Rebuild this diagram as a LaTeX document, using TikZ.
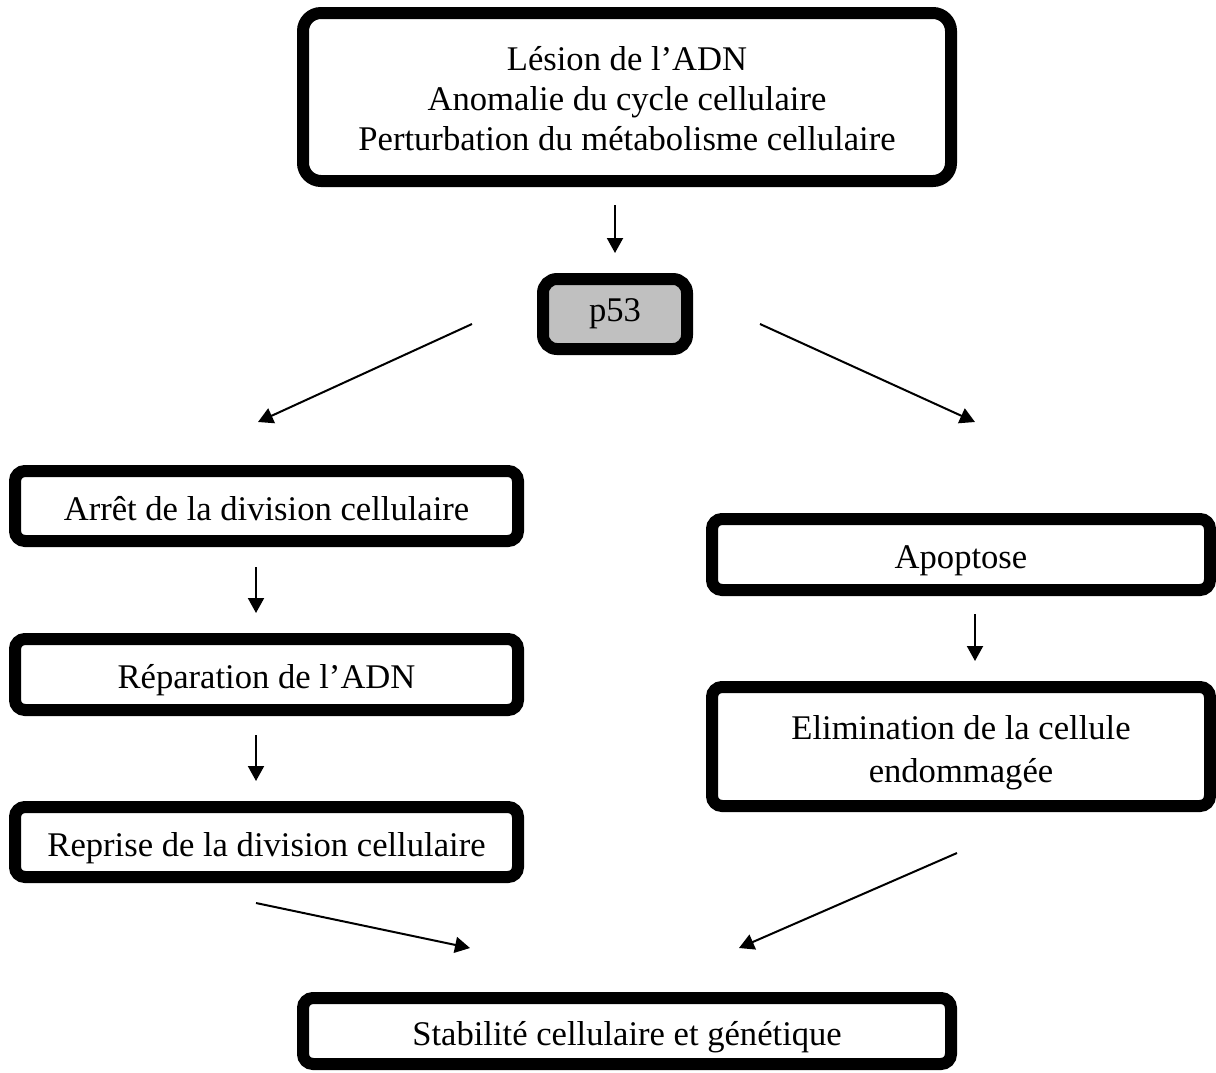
\documentclass[tikz,border=0pt]{standalone}
\usepackage{fontspec}
\setmainfont{Liberation Serif}
\usetikzlibrary{arrows.meta}
\tikzset{
  box/.style={draw=black, line width=6pt, rounded corners=5pt, fill=white, align=center,
    inner sep=0pt, font=\fontsize{17.3}{20}\selectfont},
  onel/.style={text height=14pt, text depth=0pt},
  arr/.style={line width=1pt, -{Triangle[length=7.5pt,width=8pt]}},
}
\begin{document}
\begin{tikzpicture}[x=0.5pt,y=-0.5pt]
\useasboundingbox (0,0) rectangle (1216,1072);
% nodes
\node[box, rounded corners=9pt, minimum width=324pt, minimum height=84pt] (top) at (627,97)
  {\rule{0pt}{13.5pt}Lésion de l’ADN\\Anomalie du cycle cellulaire\\Perturbation du métabolisme cellulaire};
\node[box, rounded corners=7pt, fill={rgb,255:red,192;green,192;blue,192}, minimum width=72pt, minimum height=35pt] (p53) at (615,314) {p53};
\node[box, onel, minimum width=251.5pt, minimum height=35pt] (arret) at (266.5,506) {Arrêt de la division cellulaire};
\node[box, onel, minimum width=251.5pt, minimum height=35.5pt] (repar) at (266.5,674.5) {Réparation de l’ADN};
\node[box, onel, minimum width=251.5pt, minimum height=35pt] (reprise) at (266.5,842) {Reprise de la division cellulaire};
\node[box, onel, minimum width=249pt, minimum height=35.5pt] (apop) at (961,554.5) {Apoptose};
\node[box, font=\fontsize{17.3}{21.5}\selectfont, minimum width=249pt, minimum height=59.5pt] (elim) at (961,746.5)
  {\rule{0pt}{18.5pt}Elimination de la cellule\\endommagée};
\node[box, onel, minimum width=324pt, minimum height=33pt] (stab) at (627,1031) {Stabilité cellulaire et génétique};
% arrow end points
\coordinate (a1s) at (615,205); \coordinate (a1e) at (615,253);
\coordinate (dls) at (472,324); \coordinate (dle) at (258,422);
\coordinate (drs) at (760,324); \coordinate (dre) at (975,422);
\coordinate (v1s) at (256,567); \coordinate (v1e) at (256,613);
\coordinate (v2s) at (256,735); \coordinate (v2e) at (256,781);
\coordinate (v3s) at (975,614); \coordinate (v3e) at (975,661);
\coordinate (bls) at (256,903); \coordinate (ble) at (470,948);
\coordinate (brs) at (957,853); \coordinate (bre) at (739,948);
% arrows
\draw[arr] (a1s) -- (a1e);
\draw[arr] (dls) -- (dle);
\draw[arr] (drs) -- (dre);
\draw[arr] (v1s) -- (v1e);
\draw[arr] (v2s) -- (v2e);
\draw[arr] (v3s) -- (v3e);
\draw[arr] (bls) -- (ble);
\draw[arr] (brs) -- (bre);
\end{tikzpicture}
\end{document}
